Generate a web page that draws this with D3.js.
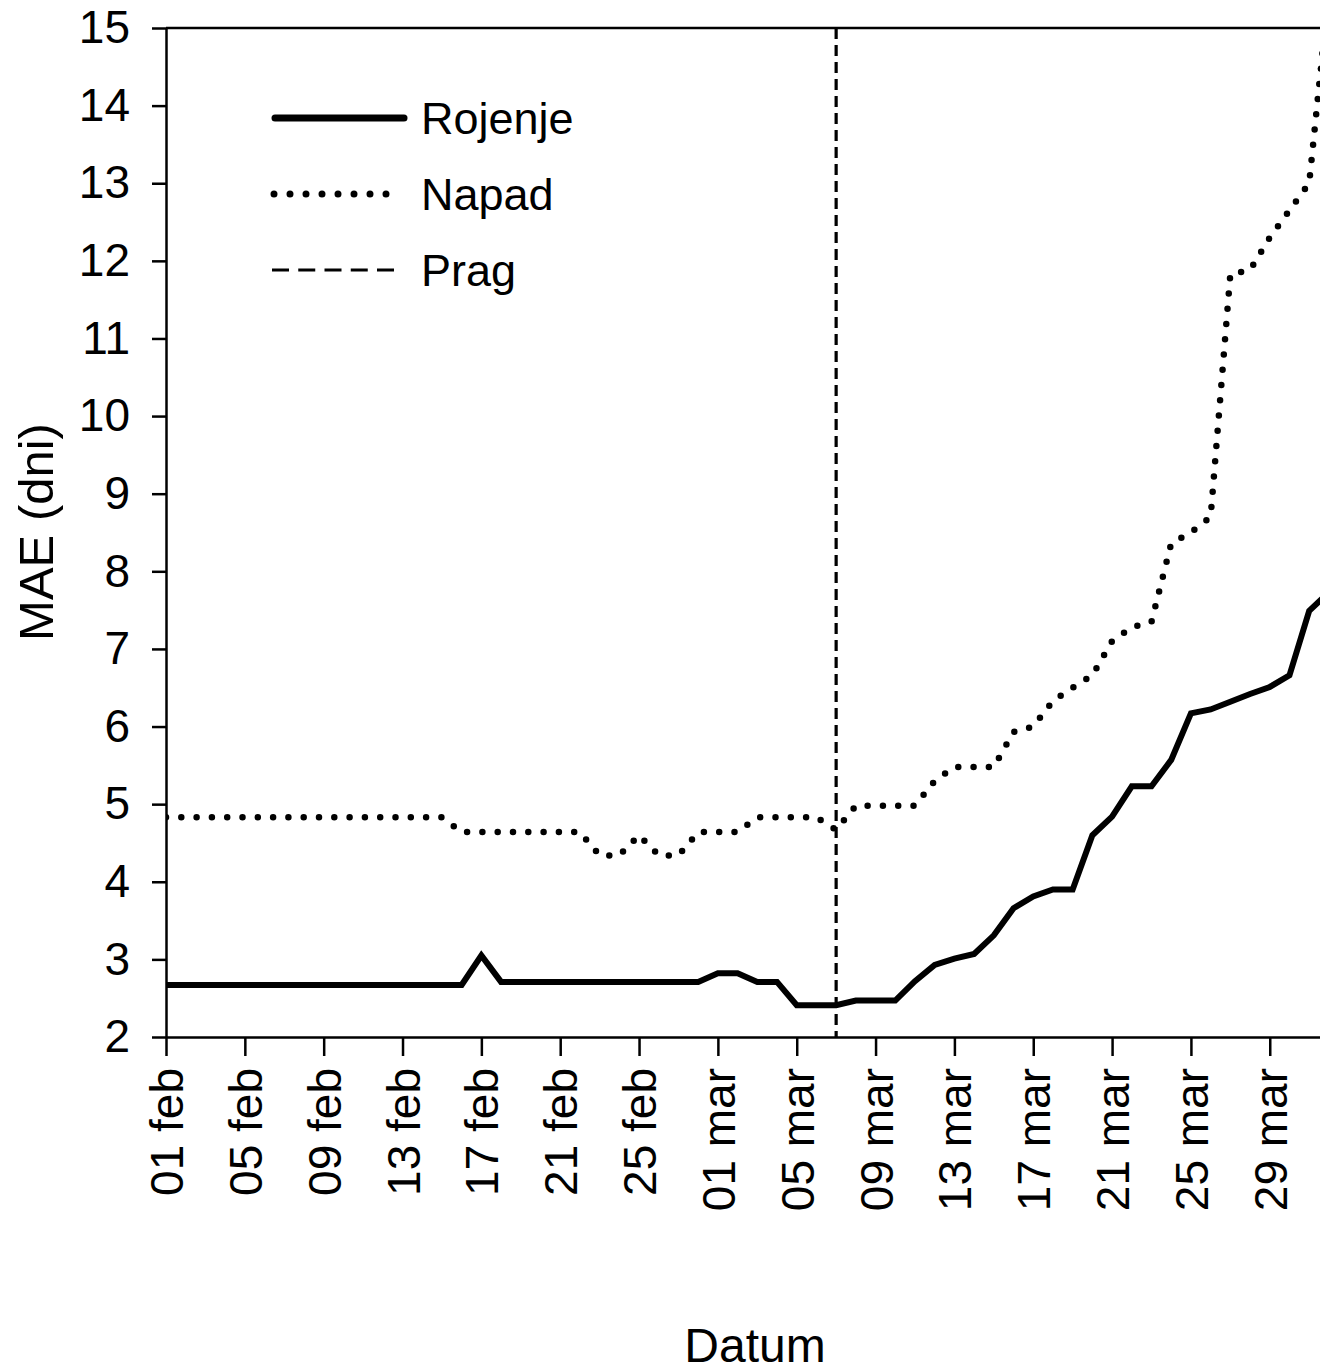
<!DOCTYPE html>
<html>
<head>
<meta charset="utf-8">
<script src="https://cdn.jsdelivr.net/npm/d3@7"></script>
<style>
  body { margin: 0; background: #fff; }
  svg { display: block; }
  text { font-family: Arial, "Liberation Sans", sans-serif; fill: #000; }
</style>
</head>
<body>
<svg width="1320" height="1371"></svg>
<script>
// first day of the series, one value per day
var startDay = "2015-02-01";
var dayCount = 60;

var rojenje = [
  2.67, 2.67, 2.67, 2.67, 2.67, 2.67, 2.67, 2.67, 2.67, 2.67, 2.67, 2.67, 2.67, 2.67, 2.67, 2.67,
  3.05,
  2.71, 2.71, 2.71, 2.71, 2.71, 2.71, 2.71, 2.71, 2.71, 2.71, 2.71,
  2.82, 2.82, 2.71, 2.71, 2.41, 2.41, 2.41, 2.47, 2.47, 2.47,
  2.72, 2.93, 3.01, 3.07, 3.31, 3.66, 3.81, 3.90, 3.90, 4.60, 4.84, 5.23, 5.23, 5.57,
  6.17, 6.22, 6.32, 6.42, 6.51, 6.66, 7.49, 7.73
];

var napad = [
  4.83, 4.83, 4.83, 4.83, 4.83, 4.83, 4.83, 4.83, 4.83, 4.83, 4.83, 4.83, 4.83, 4.83, 4.83,
  4.64, 4.64, 4.64, 4.64, 4.64, 4.64, 4.64,
  4.34, 4.34, 4.60, 4.34, 4.34, 4.64, 4.64, 4.64,
  4.83, 4.83, 4.83, 4.83, 4.67, 4.98, 4.98, 4.98, 4.98, 5.30,
  5.48, 5.48, 5.48, 5.93, 6.00, 6.33, 6.50, 6.66, 7.10, 7.28, 7.35,
  8.36, 8.50, 8.70, 11.83, 11.88, 12.30, 12.65, 13.00, 15.50
];

var pragDay = "2015-03-07";

var tickDays = ["2015-02-01", "2015-02-05", "2015-02-09", "2015-02-13", "2015-02-17", "2015-02-21",
  "2015-02-25", "2015-03-01", "2015-03-05", "2015-03-09", "2015-03-13", "2015-03-17",
  "2015-03-21", "2015-03-25", "2015-03-29"];
var tickLabels = ["01 feb", "05 feb", "09 feb", "13 feb", "17 feb", "21 feb", "25 feb",
  "01 mar", "05 mar", "09 mar", "13 mar", "17 mar", "21 mar", "25 mar", "29 mar"];

var yTicks = [2, 3, 4, 5, 6, 7, 8, 9, 10, 11, 12, 13, 14, 15];

var legendNames = ["Rojenje", "Napad", "Prag"];

var parse = d3.utcParse("%Y-%m-%d");
var t0 = parse(startDay);
var days = d3.utcDay.range(t0, d3.utcDay.offset(t0, dayCount));

var svg = d3.select("svg");

var plotLeft = 166, plotTop = 28, plotBottom = 1037, pxPerDay = 19.71;

var x = d3.scaleUtc()
    .domain([t0, d3.utcDay.offset(t0, dayCount)])
    .range([plotLeft, plotLeft + dayCount * pxPerDay]);

var y = d3.scaleLinear()
    .domain([2, 15])
    .range([plotBottom, plotTop]);

svg.append("defs").append("clipPath")
    .attr("id", "plot")
  .append("rect")
    .attr("x", plotLeft).attr("y", plotTop)
    .attr("width", dayCount * pxPerDay).attr("height", plotBottom - plotTop);

// frame top
svg.append("line")
    .attr("x1", plotLeft).attr("x2", 1320)
    .attr("y1", plotTop).attr("y2", plotTop)
    .attr("stroke", "#000").attr("stroke-width", 2.5);

// y axis
var yAxis = svg.append("g")
    .attr("transform", "translate(" + plotLeft + ",0)")
    .call(d3.axisLeft(y).tickValues(yTicks).tickSize(14).tickSizeOuter(0).tickPadding(22));

// x axis
var xAxis = svg.append("g")
    .attr("transform", "translate(0," + plotBottom + ")")
    .call(d3.axisBottom(x)
      .tickValues(tickDays.map(parse))
      .tickSize(19).tickSizeOuter(0)
      .tickFormat(function(d, i) { return tickLabels[i]; }));

svg.selectAll(".domain, .tick line")
    .attr("stroke", "#000")
    .attr("stroke-width", 2.5);

yAxis.selectAll("text")
    .style("font-size", "46px");

xAxis.selectAll("text")
    .style("font-size", "46px")
    .attr("text-anchor", "end")
    .attr("transform", "rotate(-90)")
    .attr("x", -31)
    .attr("y", 0)
    .attr("dy", "0.36em");

// axis titles
svg.append("text")
    .attr("transform", "translate(53,532) rotate(-90)")
    .attr("text-anchor", "middle")
    .style("font-size", "49px")
    .text("MAE (dni)");

svg.append("text")
    .attr("x", 755).attr("y", 1362)
    .attr("text-anchor", "middle")
    .style("font-size", "48px")
    .text("Datum");

// lines
var line = function(values) {
  return d3.line()
      .x(function(d, i) { return x(days[i]); })
      .y(function(d) { return y(d); })(values);
};

var plot = svg.append("g").attr("clip-path", "url(#plot)");

plot.append("path")
    .attr("d", line(napad))
    .attr("fill", "none")
    .attr("stroke", "#000")
    .attr("stroke-width", 6.5)
    .attr("stroke-linecap", "round")
    .attr("stroke-dasharray", "0 15.3");

plot.append("path")
    .attr("d", line(rojenje))
    .attr("fill", "none")
    .attr("stroke", "#000")
    .attr("stroke-width", 6)
    .attr("stroke-linejoin", "miter");

svg.append("line")
    .attr("x1", x(parse(pragDay))).attr("x2", x(parse(pragDay)))
    .attr("y1", plotTop).attr("y2", plotBottom)
    .attr("stroke", "#000")
    .attr("stroke-width", 3.2)
    .attr("stroke-dasharray", "11 6");

// legend
var legend = svg.append("g");
var legY = [118, 194, 270];

legend.append("line")
    .attr("x1", 275).attr("x2", 404).attr("y1", legY[0]).attr("y2", legY[0])
    .attr("stroke", "#000").attr("stroke-width", 7).attr("stroke-linecap", "round");

legend.append("line")
    .attr("x1", 274).attr("x2", 402).attr("y1", legY[1]).attr("y2", legY[1])
    .attr("stroke", "#000").attr("stroke-width", 7).attr("stroke-linecap", "round")
    .attr("stroke-dasharray", "0 16");

legend.append("line")
    .attr("x1", 272).attr("x2", 394).attr("y1", legY[2]).attr("y2", legY[2])
    .attr("stroke", "#000").attr("stroke-width", 3.2)
    .attr("stroke-dasharray", "17 9.25");

legend.selectAll("text")
    .data(legendNames)
    .enter().append("text")
      .attr("x", 421)
      .attr("y", function(d, i) { return legY[i] + 16; })
      .style("font-size", "45px")
      .text(function(d) { return d; });
</script>
</body>
</html>
